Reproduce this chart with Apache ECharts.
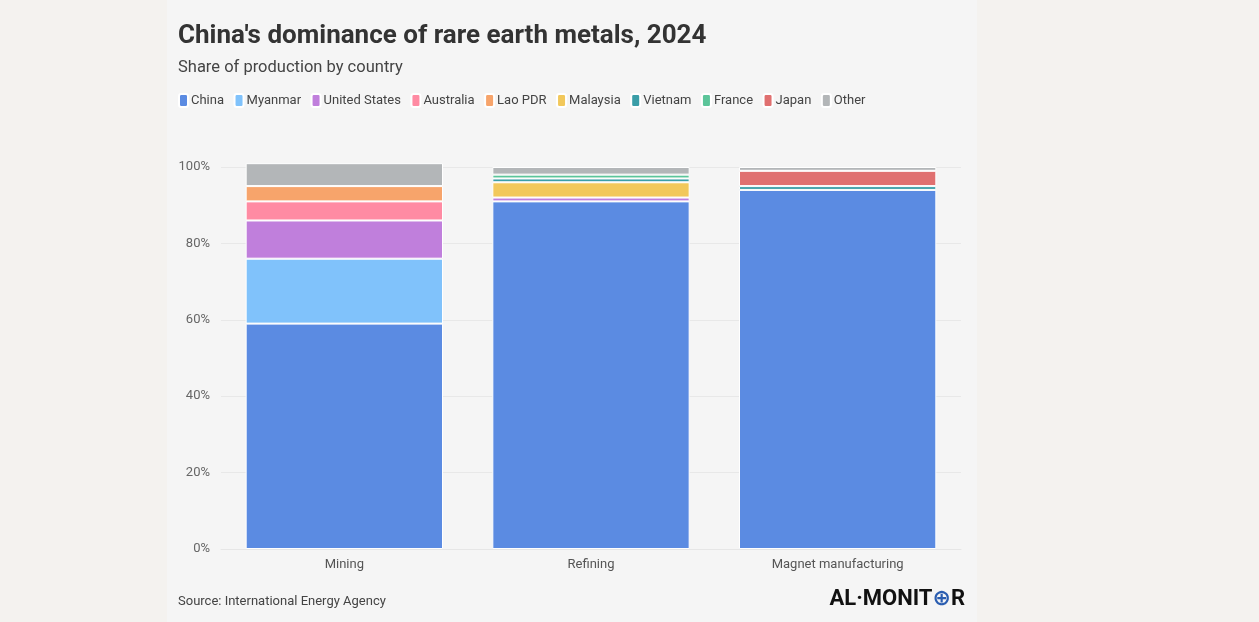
<!DOCTYPE html>
<html>
<head>
<meta charset="utf-8">
<script src="https://cdn.jsdelivr.net/npm/echarts@6/dist/echarts.min.js"></script>
<style>
html,body{margin:0;padding:0;background:#f4f2ef;}
#panel{position:absolute;left:167px;top:0;width:810px;height:622px;background:#f5f5f5;}
#chart{position:absolute;left:0;top:0;width:1259px;height:622px;}
</style>
</head>
<body>
<div id="panel"></div>
<div id="chart"></div>
<script>
const categories = ['Mining', 'Refining', 'Magnet manufacturing'];
const seriesNames = ['China', 'Myanmar', 'United States', 'Australia', 'Lao PDR', 'Malaysia', 'Vietnam', 'France', 'Japan', 'Other'];
const china = [59, 91, 94];
const myanmar = [17, null, null];
const unitedStates = [10, 1, null];
const australia = [5, null, null];
const laoPDR = [4, null, null];
const malaysia = [null, 4, null];
const vietnam = [null, 1, 1];
const france = [null, 1, null];
const japan = [null, null, 4];
const other = [6, 2, 1];
const yTicks = [0, 20, 40, 60, 80, 100];

const values = [china, myanmar, unitedStates, australia, laoPDR, malaysia, vietnam, france, japan, other];
const colors = ['#5b8be2', '#80c2fb', '#c07fdc', '#ff8ba3', '#f7a46b', '#f2c85b', '#3b9ea8', '#5cc59a', '#e07070', '#b3b6b8'];

const FONT = 'Roboto, "Noto Sans", sans-serif';
const chart = echarts.init(document.getElementById('chart'), null, {renderer: 'canvas'});

const series = seriesNames.map((name, i) => ({
  name: name,
  type: 'bar',
  stack: 'total',
  barWidth: '80%',
  clip: false,
  data: values[i],
  itemStyle: {color: colors[i], borderColor: '#ffffff', borderWidth: 1},
  emphasis: {disabled: true}
}));

chart.setOption({
  backgroundColor: 'transparent',
  animation: false,
  textStyle: {fontFamily: FONT},
  title: [{
    text: "China's dominance of rare earth metals, 2024",
    left: 173, top: 18,
    textStyle: {fontFamily: FONT, fontSize: 26, fontWeight: 'bold', color: '#333333'}
  }, {
    text: 'Share of production by country',
    left: 173, top: 54,
    textStyle: {fontFamily: FONT, fontSize: 16.5, fontWeight: 'normal', color: '#444444'}
  }, {
    text: 'Source: International Energy Agency',
    left: 173, top: 590,
    textStyle: {fontFamily: FONT, fontSize: 13, fontWeight: 'normal', color: '#444444'}
  }],
  legend: {
    data: seriesNames,
    left: 173, top: 88,
    icon: 'roundRect',
    itemWidth: 9, itemHeight: 13,
    itemGap: 9.5,
    textStyle: {fontFamily: FONT, fontSize: 13, color: '#444444', padding: [0, 0, 0, -2]},
    selectedMode: false
  },
  grid: {left: 221, right: 298, top: 167, bottom: 73},
  xAxis: {
    type: 'category',
    data: categories,
    axisLine: {show: true, lineStyle: {color: '#e6e6e6'}},
    axisTick: {show: false},
    axisLabel: {fontFamily: FONT, fontSize: 13, color: '#555555', margin: 9}
  },
  yAxis: {
    type: 'value',
    min: yTicks[0], max: yTicks[yTicks.length - 1], interval: 20,
    axisLine: {show: false},
    axisTick: {show: false},
    splitLine: {lineStyle: {color: '#e8e8e8', width: 1}},
    axisLabel: {fontFamily: FONT, fontSize: 13, color: '#666666', margin: 11, formatter: v => v + '%'}
  },
  series: series,
  graphic: [{
    type: 'text',
    right: 1259 - 965,
    top: 588,
    style: {
      text: '{a|AL·MONIT}{o|⊕}{a|R}',
      rich: {
        a: {fontFamily: 'Roboto, sans-serif', fontSize: 22, fontWeight: 'bold', fill: '#111111'},
        o: {fontFamily: 'DejaVu Sans, sans-serif', fontSize: 22, fontWeight: 'bold', fill: '#2a5db0'}
      }
    }
  }]
});
</script>
</body>
</html>
